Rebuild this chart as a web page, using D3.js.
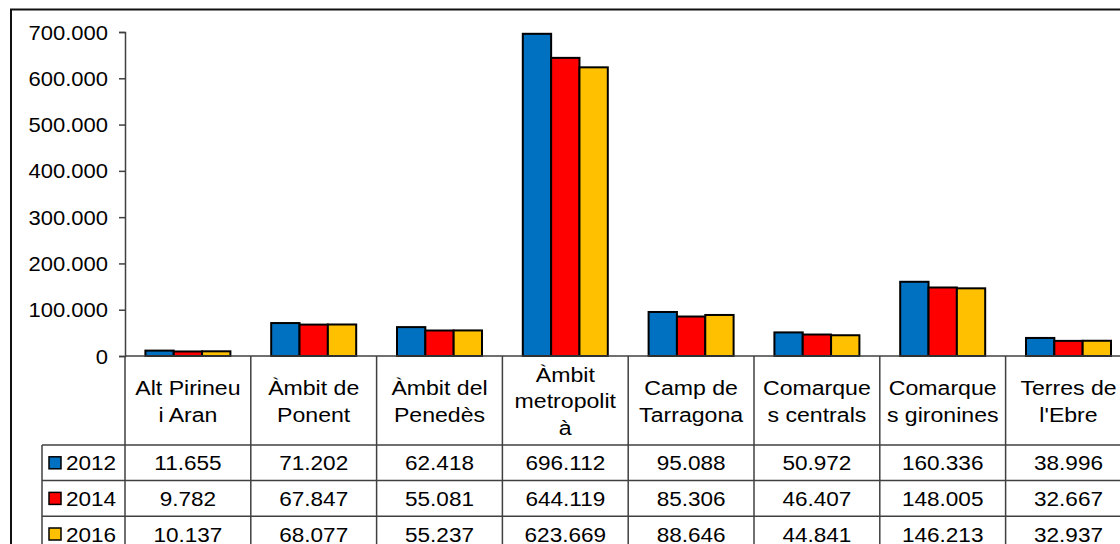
<!DOCTYPE html>
<html>
<head>
<meta charset="utf-8">
<script src="https://cdn.jsdelivr.net/npm/d3@7"></script>
<style>
  body { margin: 0; background: #fff; }
  text { font-family: 'Liberation Sans', Arial, sans-serif; fill: #000; }
</style>
</head>
<body>
<svg id="chart" width="1120" height="544"></svg>
<script>
const categories = ['Alt Pirineu i Aran', 'Àmbit de Ponent', 'Àmbit del Penedès', 'Àmbit metropolità',
    'Camp de Tarragona', 'Comarques centrals', 'Comarques gironines', "Terres de l'Ebre"];
// how Excel wrapped the names in the table header
const categoryLines = [
    ['Alt Pirineu', 'i Aran'], ['Àmbit de', 'Ponent'], ['Àmbit del', 'Penedès'],
    ['Àmbit', 'metropolit', 'à'], ['Camp de', 'Tarragona'], ['Comarque', 's centrals'],
    ['Comarque', 's gironines'], ['Terres de', "l'Ebre"]];
const years = ['2012', '2014', '2016'];
const values2012 = [11655, 71202, 62418, 696112, 95088, 50972, 160336, 38996];
const values2014 = [9782, 67847, 55081, 644119, 85306, 46407, 148005, 32667];
const values2016 = [10137, 68077, 55237, 623669, 88646, 44841, 146213, 32937];
const yTicks = [0, 100000, 200000, 300000, 400000, 500000, 600000, 700000];
const colors = ['#0070C0', '#FF0000', '#FFC000'];

const series = [values2012, values2014, values2016];

const fmt = d3.formatLocale({ decimal: ',', thousands: '.', grouping: [3], currency: ['', ''] }).format(',d');

const svg = d3.select('#chart');

const plotLeft = 125;
const plotTop = 32;
const plotBottom = 356;
const step = 125.8;
const headerBottom = 445;
const rowH = 35.6;
const sx = 1.1; // the source text is a bit wider than Arial

const x = d3.scaleBand()
    .domain(categories)
    .range([plotLeft, plotLeft + step * categories.length])
    .paddingInner(0)
    .paddingOuter(0);

const xs = d3.scaleBand()
    .domain(years)
    .range([0, x.bandwidth()])
    .paddingInner(0)
    .paddingOuter(0.72);

const y = d3.scaleLinear()
    .domain([0, 700000])
    .range([plotBottom, plotTop]);

// place a text at (px, py) stretched horizontally
function put(sel, px, py) {
    return sel.attr('transform', `translate(${px},${py}) scale(${sx},1)`);
}

// outer chart frame
svg.append('rect')
    .attr('x', 11).attr('y', 9.5)
    .attr('width', 1200).attr('height', 700)
    .attr('fill', 'none')
    .attr('stroke', '#111')
    .attr('stroke-width', 2);

// bars
years.forEach((yr, s) => {
    svg.append('g')
        .selectAll('rect')
        .data(series[s])
        .enter()
        .append('rect')
        .attr('x', (d, i) => x(categories[i]) + xs(yr))
        .attr('y', (d) => y(d))
        .attr('width', xs.bandwidth())
        .attr('height', (d) => plotBottom - y(d))
        .attr('fill', colors[s])
        .attr('stroke', '#000')
        .attr('stroke-width', 2);
});

// y axis
const yAxis = svg.append('g')
    .attr('transform', `translate(${plotLeft},0)`)
    .call(d3.axisLeft(y).tickValues(yTicks).tickFormat(fmt).tickSize(6).tickPadding(10));
yAxis.select('.domain').attr('stroke', '#404040').attr('stroke-width', 1.5);
yAxis.selectAll('.tick line').attr('stroke', '#404040').attr('stroke-width', 1.5);
yAxis.selectAll('.tick text')
    .attr('x', 0)
    .attr('dy', null)
    .attr('transform', `translate(-17,7) scale(${sx},1)`)
    .style('font-family', "'Liberation Sans', Arial, sans-serif")
    .style('font-size', '20px')
    .attr('fill', '#000');

// data table
const lineColor = '#404040';
const tableBottom = headerBottom + rowH * years.length;
const table = svg.append('g')
    .attr('stroke', lineColor)
    .attr('stroke-width', 1.5);

// horizontal lines
table.append('line')
    .attr('x1', plotLeft).attr('x2', 1130)
    .attr('y1', plotBottom).attr('y2', plotBottom);
d3.range(years.length).forEach((r) => {
    table.append('line')
        .attr('x1', 42).attr('x2', 1130)
        .attr('y1', headerBottom + rowH * r).attr('y2', headerBottom + rowH * r);
});
// vertical lines
table.append('line')
    .attr('x1', 42).attr('x2', 42)
    .attr('y1', headerBottom).attr('y2', tableBottom + 5);
categories.concat(['end']).forEach((c, i) => {
    const xx = plotLeft + step * i;
    table.append('line')
        .attr('x1', xx).attr('x2', xx)
        .attr('y1', plotBottom).attr('y2', tableBottom + 5);
});

// header labels
categories.forEach((c, i) => {
    const lines = categoryLines[i];
    const cx = x(c) + x.bandwidth() / 2;
    const lh = 27;
    const first = 408.5 - lh * (lines.length - 1) / 2;
    const t = put(svg.append('text'), cx, first)
        .attr('text-anchor', 'middle')
        .style('font-size', '21px');
    lines.forEach((ln, k) => {
        t.append('tspan')
            .attr('x', 0)
            .attr('y', lh * k)
            .text(ln);
    });
});

// rows: legend keys and values
years.forEach((yr, r) => {
    const cy = headerBottom + rowH * r + rowH / 2;
    svg.append('rect')
        .attr('x', 49).attr('y', cy - 6)
        .attr('width', 12).attr('height', 12)
        .attr('fill', colors[r])
        .attr('stroke', '#000')
        .attr('stroke-width', 1.5);
    put(svg.append('text'), 66, cy + 7.5)
        .style('font-size', '20.5px')
        .text(yr);
    svg.append('g')
        .selectAll('text')
        .data(series[r])
        .enter()
        .append('text')
        .attr('transform', (d, i) => `translate(${x(categories[i]) + x.bandwidth() / 2},${cy + 7.5}) scale(${sx},1)`)
        .attr('text-anchor', 'middle')
        .style('font-size', '20.5px')
        .text((d) => fmt(d));
});
</script>
</body>
</html>
